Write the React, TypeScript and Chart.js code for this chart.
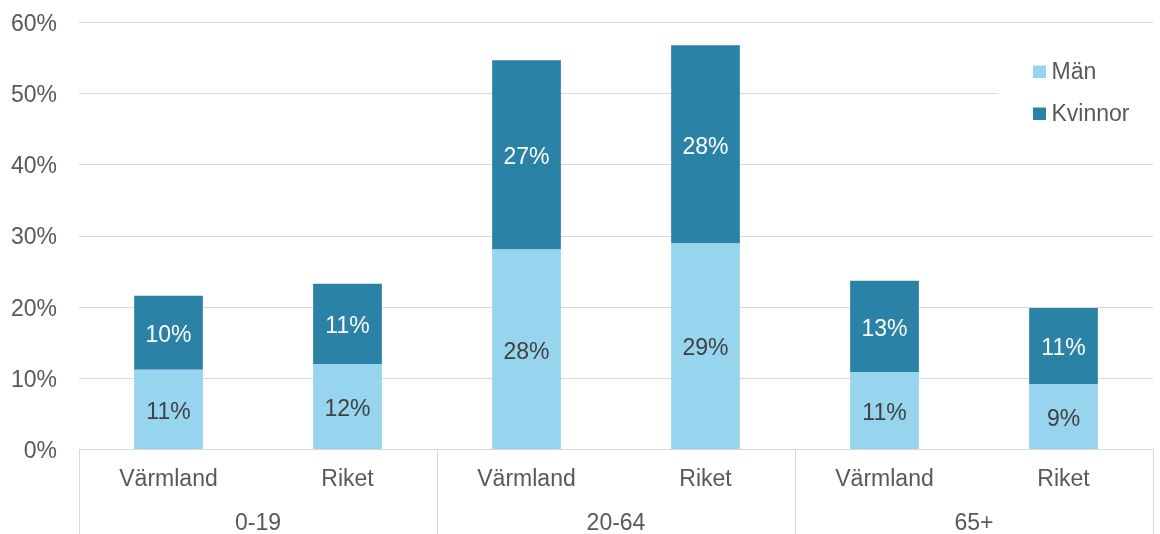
import React, { useEffect, useRef } from "react";
import { Chart, registerables } from "chart.js";

Chart.register(...registerables);

const categories = ["Värmland", "Riket", "Värmland", "Riket", "Värmland", "Riket"];
const groups = ["0-19", "20-64", "65+"];
const manValues = [11.2, 12.0, 28.1, 29.0, 10.9, 9.2];
const kvinnorValues = [10.4, 11.3, 26.6, 27.8, 12.8, 10.7];
const seriesNames = ["Män", "Kvinnor"];
const seriesColors = ["#97D5EF", "#2A83A6"];
const labelColors = ["#404040", "#FFFFFF"];

const FONT = '"Liberation Sans", Arial, sans-serif';
const TEXT = "#595959";
const GRID = "#D9D9D9";

const overlay = {
  id: "overlay",
  afterDatasetsDraw(chart: any) {
    const ctx = chart.ctx;
    chart.data.datasets.forEach((ds: any, di: number) => {
      const meta = chart.getDatasetMeta(di);
      meta.data.forEach((el: any, i: number) => {
        const { x, y, base } = el.getProps(["x", "y", "base"], true);
        ctx.save();
        ctx.font = `23px ${FONT}`;
        ctx.fillStyle = labelColors[di];
        ctx.textAlign = "center";
        ctx.textBaseline = "middle";
        ctx.fillText(Math.round(ds.data[i]) + "%", x, (y + base) / 2 + 3);
        ctx.restore();
      });
    });
  },
  afterDraw(chart: any) {
    const ctx = chart.ctx;
    const area = chart.chartArea;
    const xs = chart.scales.x;
    const px = (i: number) => xs.getPixelForValue(i);
    const bounds = [area.left];
    for (let g = 1; g < groups.length; g++) bounds.push((px(g * 2 - 1) + px(g * 2)) / 2);
    bounds.push(area.right);
    ctx.save();
    ctx.strokeStyle = GRID;
    ctx.lineWidth = 1;
    bounds.forEach((b) => {
      const bx = Math.round(b) + 0.5;
      ctx.beginPath();
      ctx.moveTo(bx, area.bottom);
      ctx.lineTo(bx, chart.height);
      ctx.stroke();
    });
    ctx.font = `23px ${FONT}`;
    ctx.fillStyle = TEXT;
    ctx.textAlign = "center";
    ctx.textBaseline = "alphabetic";
    groups.forEach((g, gi) => {
      const cx = (px(gi * 2) + px(gi * 2 + 1)) / 2;
      ctx.fillText(g, cx, 530);
    });
    // legend
    ctx.fillStyle = "#FFFFFF";
    ctx.fillRect(998, 48, 162, 90);
    ctx.textAlign = "left";
    seriesNames.forEach((name, si) => {
      const top = 65.5 + si * 42;
      ctx.fillStyle = seriesColors[si];
      ctx.fillRect(1033, top, 13, 12.5);
      ctx.fillStyle = TEXT;
      ctx.fillText(name, 1051.5, top + 13.5);
    });
    ctx.restore();
  },
};

export default function App() {
  const ref = useRef<HTMLCanvasElement | null>(null);
  useEffect(() => {
    if (!ref.current) return;
    const chart = new Chart(ref.current, {
      type: "bar",
      data: {
        labels: categories,
        datasets: [
          {
            label: seriesNames[0],
            data: manValues,
            backgroundColor: seriesColors[0],
            borderWidth: 0,
            barPercentage: 0.384,
            categoryPercentage: 1,
          },
          {
            label: seriesNames[1],
            data: kvinnorValues,
            backgroundColor: seriesColors[1],
            borderWidth: 0,
            barPercentage: 0.384,
            categoryPercentage: 1,
          },
        ],
      },
      options: {
        responsive: false,
        animation: false,
        devicePixelRatio: 1,
        layout: { padding: { top: 22.5, right: 7, left: 0, bottom: 0 } },
        plugins: { legend: { display: false }, tooltip: { enabled: false }, title: { display: false } },
        scales: {
          x: {
            stacked: true,
            grid: { display: false, drawTicks: false },
            border: { display: true, color: GRID, width: 1 },
            ticks: { font: { family: FONT, size: 23 }, color: TEXT, padding: 16, maxRotation: 0, autoSkip: false },
            afterFit: (s: any) => {
              s.height = 84.5;
            },
          },
          y: {
            stacked: true,
            min: 0,
            max: 60,
            grid: { color: GRID, lineWidth: 1, drawTicks: true, tickLength: 22, tickColor: "rgba(0,0,0,0)" },
            border: { display: false },
            ticks: {
              stepSize: 10,
              font: { family: FONT, size: 23 },
              color: TEXT,
              padding: 0,
              labelOffset: 2,
              callback: (v: any) => v + "%",
            },
            afterFit: (s: any) => {
              s.width = 79;
            },
          },
        },
      },
      plugins: [overlay],
    });
    return () => chart.destroy();
  }, []);
  return (
    <div style={{ position: "absolute", left: 0, top: 0, width: 1160, height: 534, background: "#fff" }}>
      <canvas ref={ref} width={1160} height={534} style={{ display: "block" }} />
    </div>
  );
}
